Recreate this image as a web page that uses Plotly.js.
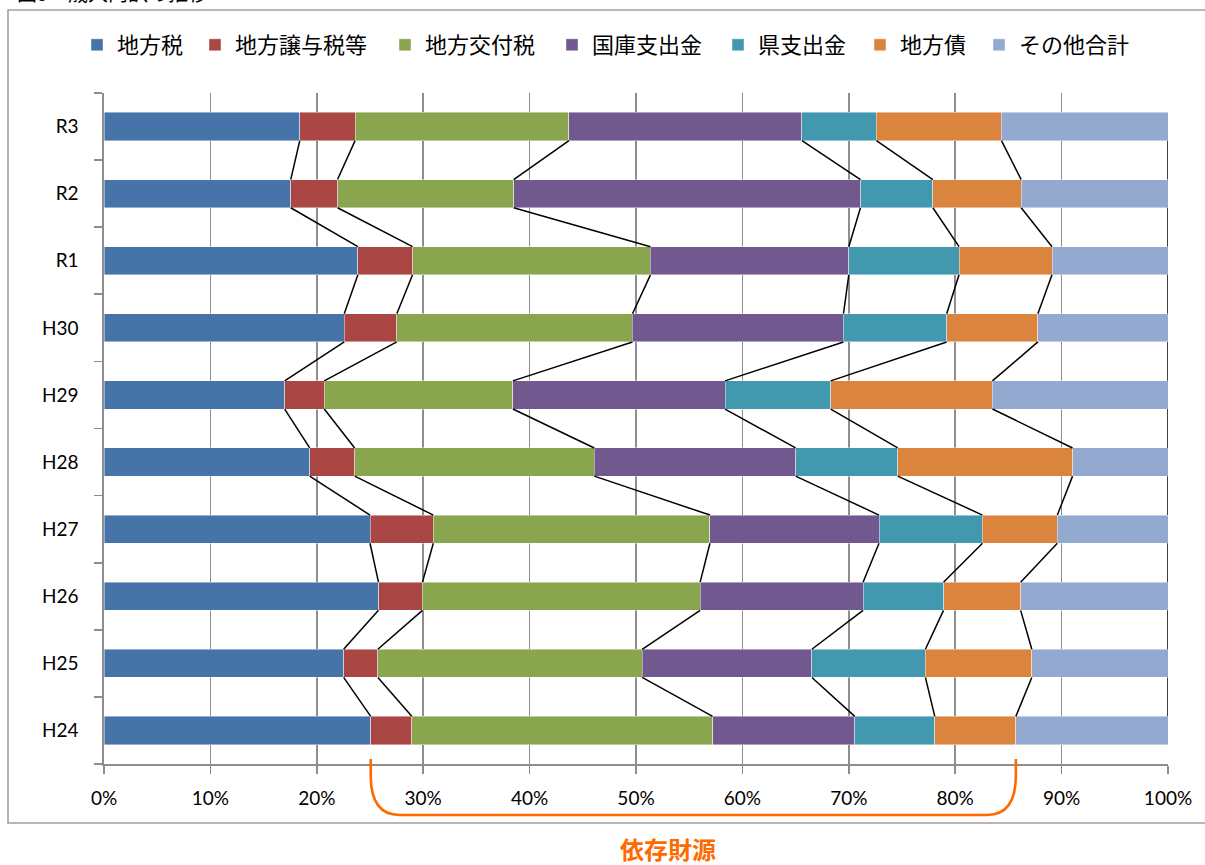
<!DOCTYPE html>
<html>
<head>
<meta charset="utf-8">
<script src="https://cdn.plot.ly/plotly-3.0.1.min.js"></script>
<style>html,body{margin:0;padding:0;background:#fff;}#chart{width:1205px;height:865px;}</style>
</head>
<body>
<div id="chart"></div>
<script>
// Categories (bottom to top)
const categories = ["H24","H25","H26","H27","H28","H29","H30","R1","R2","R3"];
// Series values (% share), same order as categories
const chihouzei      = [25.07, 22.52, 25.80, 25.00, 19.33, 16.98, 22.58, 23.86, 17.55, 18.40];
const jouyozei       = [ 3.86,  3.22,  4.13,  5.95,  4.23,  3.72,  4.94,  5.14,  4.40,  5.20];
const koufuzei       = [28.27, 24.84, 26.10, 26.00, 22.52, 17.73, 22.15, 22.36, 16.55, 20.10];
const kokko          = [13.36, 15.95, 15.31, 15.89, 18.92, 19.94, 19.83, 18.64, 32.60, 21.90];
const kenshishutsu   = [ 7.52, 10.67,  7.56,  9.72,  9.60,  9.93,  9.70, 10.36,  6.80,  7.00];
const chihousai      = [ 7.62, 10.00,  7.25,  7.04, 16.43, 15.20,  8.57,  8.74,  8.30, 11.75];
const sonota         = [14.30, 12.80, 13.85, 10.40,  8.97, 16.50, 12.23, 10.90, 13.80, 15.65];
const seriesNames = ["地方税","地方譲与税等","地方交付税","国庫支出金","県支出金","地方債","その他合計"];
const xTickLabels = ["0%","10%","20%","30%","40%","50%","60%","70%","80%","90%","100%"];
const bracketLabel = "依存財源";
const titleText = "図5　歳入内訳の推移";

const seriesValues = [chihouzei, jouyozei, koufuzei, kokko, kenshishutsu, chihousai, sonota];
const colors = ["#4673A8","#AA4643","#89A54E","#71588F","#4298AF","#DB843D","#93A9CF"];
const legendTextPx = [117, 235, 425, 592, 758, 900, 1019];

const ML = 104, MR = 37, MT = 93, MB = 101, W = 1205, H = 865;
const PW = W - ML - MR, PH = H - MT - MB;
const px2x = px => (px - ML) / PW;
const py2y = py => (H - MB - py) / PH;

const yIdx = categories.map((c, i) => i);
const barW = 0.42;
const traces = [];
seriesValues.forEach((vals, s) => {
  const t = {
    type: 'bar', orientation: 'h', x: vals, y: yIdx, name: seriesNames[s],
    width: barW,
    marker: {color: colors[s], line: {color: 'rgba(255,255,255,0.55)', width: 0.8}},
    hovertemplate: '%{x:.1f}%<extra>' + seriesNames[s] + '</extra>'
  };
  t.legend = s === 0 ? 'legend' : 'legend' + (s + 1);
  traces.push(t);
});

// cumulative boundaries
const cum = categories.map((c, i) => {
  let acc = 0; return seriesValues.map(v => (acc += v[i]));
});
const lx = [], ly = [];
for (let k = 0; k < seriesValues.length; k++) {
  for (let i = 0; i < categories.length - 1; i++) {
    lx.push(cum[i][k], cum[i + 1][k], null);
    ly.push(yIdx[i] + barW / 2, yIdx[i + 1] - barW / 2, null);
  }
}
traces.push({type: 'scatter', mode: 'lines', x: lx, y: ly, line: {color: '#000', width: 1.5},
  showlegend: false, hoverinfo: 'skip', connectgaps: false});

const tickFont = {family: 'Lato, "Noto Sans", sans-serif', size: 19, color: '#000'};
const legendFont = {family: '"Noto Sans CJK JP", sans-serif', size: 22, color: '#000'};

const layout = {
  width: W, height: H,
  margin: {l: ML, r: MR, t: MT, b: MB, pad: 0},
  paper_bgcolor: '#fff', plot_bgcolor: '#fff',
  barmode: 'stack', bargap: 0,
  showlegend: true,
  xaxis: {
    range: [0, 100], tickmode: 'array', tickvals: xTickLabels.map((t, i) => i * 10), ticktext: xTickLabels,
    showgrid: true, gridcolor: '#8E8E8E', gridwidth: 1.6,
    showline: true, linecolor: '#8E8E8E', linewidth: 1.6, zeroline: false,
    ticks: 'outside', ticklen: 8, tickcolor: '#8E8E8E', tickwidth: 1.6,
    tickfont: tickFont, ticklabelstandoff: 9, fixedrange: true
  },
  yaxis: {
    range: [-0.5, categories.length - 0.5], tickmode: 'array', tickvals: yIdx, ticktext: categories,
    showgrid: false, showline: true, linecolor: '#8E8E8E', linewidth: 1.6, zeroline: false,
    ticks: '', tickfont: tickFont, ticklabelstandoff: 20, fixedrange: true,
    minor: {tickmode: 'array', tickvals: yIdx.map(v => v - 0.5).concat([categories.length - 0.5]),
      ticks: 'outside', ticklen: 8, tickcolor: '#8E8E8E', tickwidth: 1.6, showgrid: false}
  },
  shapes: [
    {type: 'rect', xref: 'paper', yref: 'paper', x0: px2x(8), x1: px2x(1215), y0: py2y(823), y1: py2y(10),
     line: {color: '#A0A0A0', width: 1.6}, fillcolor: 'rgba(0,0,0,0)', layer: 'below'},
  ],
  annotations: [
    {text: '<b>' + bracketLabel + '</b>', xref: 'paper', yref: 'paper', x: px2x(668), y: py2y(848),
     xanchor: 'center', yanchor: 'middle', showarrow: false,
     font: {family: '"Noto Sans CJK JP", sans-serif', size: 24, color: '#FF6A00'}},
    {text: titleText, xref: 'paper', yref: 'paper', x: px2x(15), y: py2y(9), xanchor: 'left', yanchor: 'bottom',
     showarrow: false, font: {family: '"Noto Sans CJK JP", sans-serif', size: 20, color: '#000'}}
  ]
};

// bracket spanning the dependent revenue sources of the bottom bar
const bx0 = cum[0][0], bx1 = cum[0][5];
const yTop = py2y(759), yBot = py2y(815), dx = 2.7;
layout.shapes.push({type: 'path', xref: 'x', yref: 'paper',
  path: `M ${bx0},${yTop} L ${bx0},${yTop - (yTop - yBot) * 0.3} Q ${bx0},${yBot} ${bx0 + dx},${yBot} L ${bx1 - dx},${yBot} Q ${bx1},${yBot} ${bx1},${yTop - (yTop - yBot) * 0.3} L ${bx1},${yTop}`,
  line: {color: '#FF6A00', width: 2.6}});

// one legend per series so each entry sits where the reference puts it
seriesNames.forEach((n, s) => {
  const key = s === 0 ? 'legend' : 'legend' + (s + 1);
  layout[key] = {orientation: 'h', x: px2x(legendTextPx[s] - 40), xanchor: 'left', y: py2y(45), yanchor: 'middle',
    font: legendFont, bgcolor: 'rgba(0,0,0,0)', borderwidth: 0, traceorder: 'normal'};
});

Plotly.newPlot('chart', traces, layout, {displayModeBar: false, staticPlot: true});
</script>
</body>
</html>
